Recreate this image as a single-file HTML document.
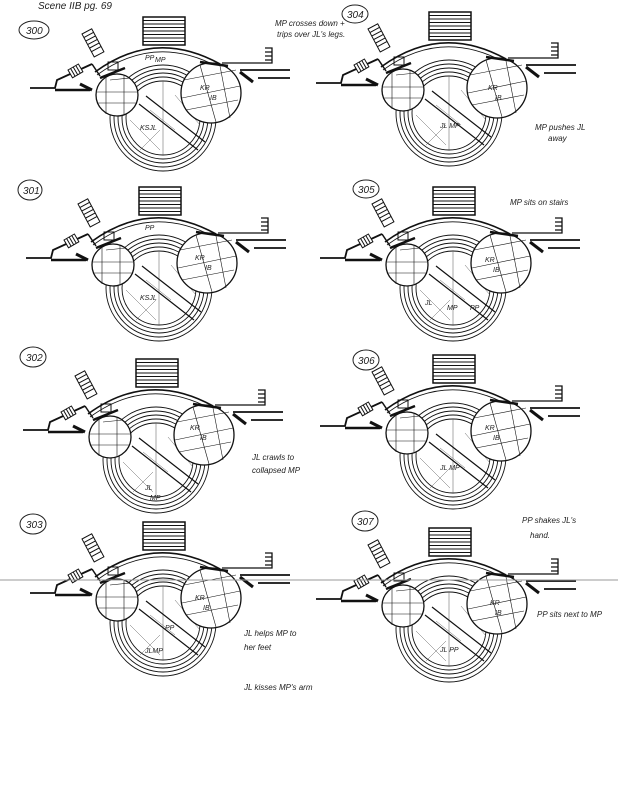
<!DOCTYPE html>
<html><head><meta charset="utf-8"><style>
html,body{margin:0;padding:0;background:#fff}
svg{display:block}
.h{font-family:"Liberation Sans",sans-serif;font-style:italic;fill:#222}
</style></head><body>
<svg width="618" height="800" viewBox="0 0 618 800" xmlns="http://www.w3.org/2000/svg">
<defs>
<g id="d" fill="none" stroke="#111" stroke-width="1">
  <rect x="143" y="17" width="42" height="28" fill="#fff" stroke-width="1.5"/>
  <path d="M143 20.5h42M143 24h42M143 27.5h42M143 31h42M143 34.5h42M143 38h42M143 41.5h42"/>
  <path d="M95 72 Q155 28 220 64" stroke-width="1.6"/>
  <path d="M97 75 Q155 33 218 67" stroke-width="0.8"/>
  <path d="M30 88 H55 L57 80 L92 64" stroke-width="1.8"/>
  <path d="M55 90 H90" stroke-width="2.5"/>
  <path d="M80 84 L92 90" stroke-width="3"/>
  <g transform="translate(82,34) rotate(-28)"><rect width="11" height="26" fill="#fff"/><path d="M0 4h11M0 8h11M0 12h11M0 16h11M0 20h11"/></g>
  <g transform="translate(68,70) rotate(-30)"><rect width="12" height="9" fill="#fff"/><path d="M3 0v9M6 0v9M9 0v9"/></g>
  <path d="M92 64 L100 76" stroke-width="1.5"/>
  <rect x="108" y="62" width="10" height="8"/>
  <path d="M100 78 L125 68" stroke-width="2.5"/>
  <g stroke-width="0.9">
  <circle cx="163" cy="118" r="53"/>
  <circle cx="163" cy="118" r="49"/>
  <circle cx="163" cy="118" r="45"/>
  <circle cx="163" cy="118" r="41"/>
  <circle cx="163" cy="118" r="37"/>
  </g>
  <path d="M163 81 L163 155" stroke-width="0.5" stroke="#555"/>
  <path d="M139 104 L198 150 M146 96 L205 142" stroke-width="1.2"/>
  <path d="M130 120 L160 150 M150 110 L175 130 M175 95 L200 125 M160 130 L140 150" stroke-width="0.5" stroke="#666"/>
  <circle cx="117" cy="95" r="21" fill="#fff" stroke-width="1.3"/>
  <path d="M106 76 V114 M124 75 V115 M97 92 H137 M97 103 H137 M110 80 L130 78" stroke-width="0.6"/>
  <circle cx="211" cy="93" r="30" fill="#fff" stroke-width="1.3"/>
  <path d="M184 80 L236 70 M182 98 L240 86 M186 110 L238 100 M200 65 L216 122 M220 66 L230 118" stroke-width="0.6"/>
  <path d="M200 62 L228 66" stroke-width="2.5"/>
  <path d="M222 63 H272 V48 H265 M265 52h7M265 56h7M265 60h7" stroke-width="1.3"/>
  <path d="M240 70 H290" stroke-width="1.8"/>
  <path d="M258 78 H290" stroke-width="1.8"/>
  <path d="M240 72 L253 82" stroke-width="3"/>
</g>
</defs>
<use href="#d" x="0" y="0"/>
<use href="#d" x="-4" y="170"/>
<use href="#d" x="-7" y="342"/>
<use href="#d" x="0" y="505"/>
<use href="#d" x="286" y="-5"/>
<use href="#d" x="290" y="170"/>
<use href="#d" x="290" y="338"/>
<use href="#d" x="286" y="511"/>
<line x1="0" y1="580" x2="618" y2="580" stroke="#999" stroke-width="1"/>
<g fill="none" stroke="#222" stroke-width="1">
<ellipse cx="34" cy="30" rx="15" ry="9"/>
<ellipse cx="355" cy="14" rx="13" ry="9"/>
<ellipse cx="30" cy="190" rx="12" ry="10"/>
<ellipse cx="366" cy="189" rx="13" ry="9"/>
<ellipse cx="33" cy="357" rx="13" ry="10"/>
<ellipse cx="366" cy="360" rx="13" ry="10"/>
<ellipse cx="33" cy="524" rx="13" ry="10"/>
<ellipse cx="365" cy="521" rx="13" ry="10"/>
</g>
<g class="h" font-size="10">
<text x="38" y="9" font-size="10">Scene IIB pg. 69</text>
<text x="26" y="34">300</text><text x="347" y="18">304</text>
<text x="23" y="194">301</text><text x="358" y="193">305</text>
<text x="26" y="361">302</text><text x="358" y="364">306</text>
<text x="26" y="528">303</text><text x="357" y="525">307</text>
<g font-size="8">
<text x="275" y="26">MP crosses down +</text>
<text x="277" y="37">trips over JL's legs.</text>
<text x="535" y="130">MP pushes JL</text>
<text x="548" y="141">away</text>
<text x="510" y="205">MP sits on stairs</text>
<text x="252" y="460">JL crawls to</text>
<text x="252" y="473">collapsed MP</text>
<text x="522" y="523">PP shakes JL's</text>
<text x="530" y="538">hand.</text>
<text x="537" y="617">PP sits next to MP</text>
<text x="244" y="636">JL helps MP to</text>
<text x="244" y="650">her feet</text>
<text x="244" y="690">JL kisses MP's arm</text>
</g>
<g font-size="7">
<text x="145" y="60">PP</text><text x="155" y="62">MP</text><text x="200" y="90">KR</text><text x="210" y="100">IB</text><text x="140" y="130">KSJL</text>
<text x="488" y="90">KR</text><text x="495" y="100">IB</text><text x="440" y="128">JL MP</text>
<text x="145" y="230">PP</text><text x="195" y="260">KR</text><text x="205" y="270">IB</text><text x="140" y="300">KSJL</text>
<text x="485" y="262">KR</text><text x="493" y="272">IB</text><text x="425" y="305">JL</text><text x="447" y="310">MP</text><text x="470" y="310">PP</text>
<text x="190" y="430">KR</text><text x="200" y="440">IB</text><text x="145" y="490">JL</text><text x="150" y="500">MP</text>
<text x="485" y="430">KR</text><text x="493" y="440">IB</text><text x="440" y="470">JL MP</text>
<text x="195" y="600">KR</text><text x="203" y="610">IB</text><text x="145" y="653">JLMP</text><text x="165" y="630">PP</text>
<text x="490" y="605">KR</text><text x="495" y="615">IB</text><text x="440" y="652">JL PP</text>
</g>
</g>
</svg>
</body></html>
